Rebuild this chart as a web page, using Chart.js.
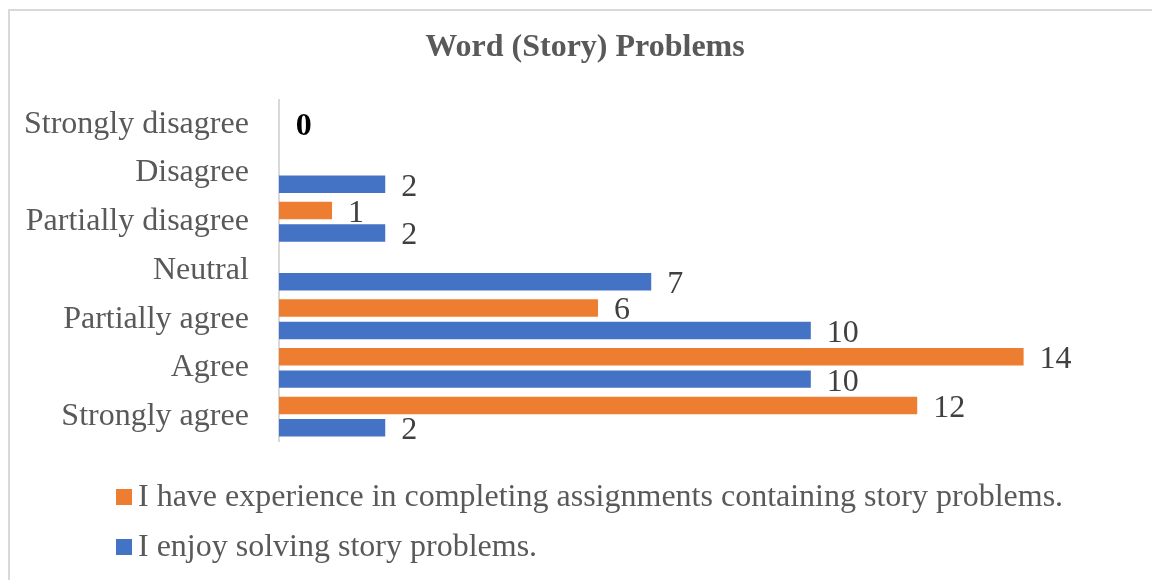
<!DOCTYPE html>
<html>
<head>
<meta charset="utf-8">
<script src="https://cdn.jsdelivr.net/npm/chart.js@4.4.0/dist/chart.umd.min.js"></script>
<style>
  html, body { margin: 0; padding: 0; background: #fff; }
  #wrap { position: relative; width: 1152px; height: 580px; overflow: hidden; }
  #frame { position: absolute; left: 8px; top: 9px; width: 1200px; height: 700px;
           border-left: 2px solid #d9d9d9; border-top: 2px solid #d9d9d9; }
  #ex_chart { position: absolute; left: 0; top: 0; }
</style>
</head>
<body>
<div id="wrap">
  <div id="frame"></div>
  <canvas id="ex_chart" width="1152" height="580"></canvas>
</div>
<script>
var categories = ["Strongly disagree", "Disagree", "Partially disagree", "Neutral",
                  "Partially agree", "Agree", "Strongly agree"];
var experience = [0, null, 1, null, 6, 14, 12];
var enjoy = [null, 2, 2, 7, 10, 10, 2];
var seriesNames = ["I have experience in completing assignments containing story problems.",
                   "I enjoy solving story problems."];
var colors = ["#ed7d31", "#4472c4"];
var chartTitle = "Word (Story) Problems";

var FONT = "'Liberation Serif', 'Times New Roman', serif";

// title, value labels beside each bar, the bold zero and the legend
var labelPlugin = {
    id: 'labels',
    afterDatasetsDraw: function (chart) {
        var ctx = chart.ctx;
        ctx.save();
        // title
        ctx.font = "bold 32px " + FONT;
        ctx.fillStyle = "#595959";
        ctx.textAlign = 'center';
        ctx.textBaseline = 'alphabetic';
        ctx.fillText(chartTitle, 585, 56);

        ctx.textBaseline = 'middle';
        chart.data.datasets.forEach(function (ds, di) {
            var meta = chart.getDatasetMeta(di);
            meta.data.forEach(function (bar, i) {
                var v = ds.data[i];
                if (v === null || v === undefined) return;
                if (v === 0) {
                    ctx.font = "bold 32px " + FONT;
                    ctx.fillStyle = "#000";
                    ctx.textAlign = 'left';
                    ctx.fillText(String(v), bar.x + 17, chart.scales.y.getPixelForValue(i) + 2);
                    return;
                }
                ctx.font = "32px " + FONT;
                ctx.fillStyle = "#404040";
                ctx.textAlign = 'left';
                ctx.fillText(String(v), bar.x + 16, bar.y + 3);
            });
        });
        // legend
        ctx.font = "32px " + FONT;
        ctx.textAlign = 'left';
        var rows = [497, 547];
        seriesNames.forEach(function (name, k) {
            ctx.fillStyle = colors[k];
            ctx.fillRect(116, rows[k] - 8, 16, 16);
            ctx.fillStyle = "#595959";
            ctx.fillText(name, 138, rows[k] + 1);
        });
        ctx.restore();
    }
};

function InitializeGraph() {
    var ctx = document.getElementById('ex_chart');

    var data = {
        labels: categories,
        datasets: [{
            label: seriesNames[0],
            data: experience,
            backgroundColor: colors[0],
            categoryPercentage: 0.92,
            barPercentage: 0.78
        }, {
            label: seriesNames[1],
            data: enjoy,
            backgroundColor: colors[1],
            categoryPercentage: 0.92,
            barPercentage: 0.78
        }]
    };

    var config = {
        indexAxis: 'y',
        responsive: false,
        animation: false,
        layout: { padding: { left: 2, right: 22, top: 100, bottom: 139 } },
        plugins: {
            legend: { display: false },
            tooltip: { enabled: false },
            title: { display: false }
        },
        scales: {
            x: { display: false, min: 0, max: 16 },
            y: {
                grid: { display: false },
                border: { display: true, color: "#d9d9d9", width: 2 },
                ticks: {
                    color: "#595959",
                    padding: 22,
                    font: { family: FONT, size: 32 }
                }
            }
        }
    };

    new Chart(ctx, {
        type: 'bar',
        data: data,
        options: config,
        plugins: [labelPlugin]
    });
}

InitializeGraph();
</script>
</body>
</html>
